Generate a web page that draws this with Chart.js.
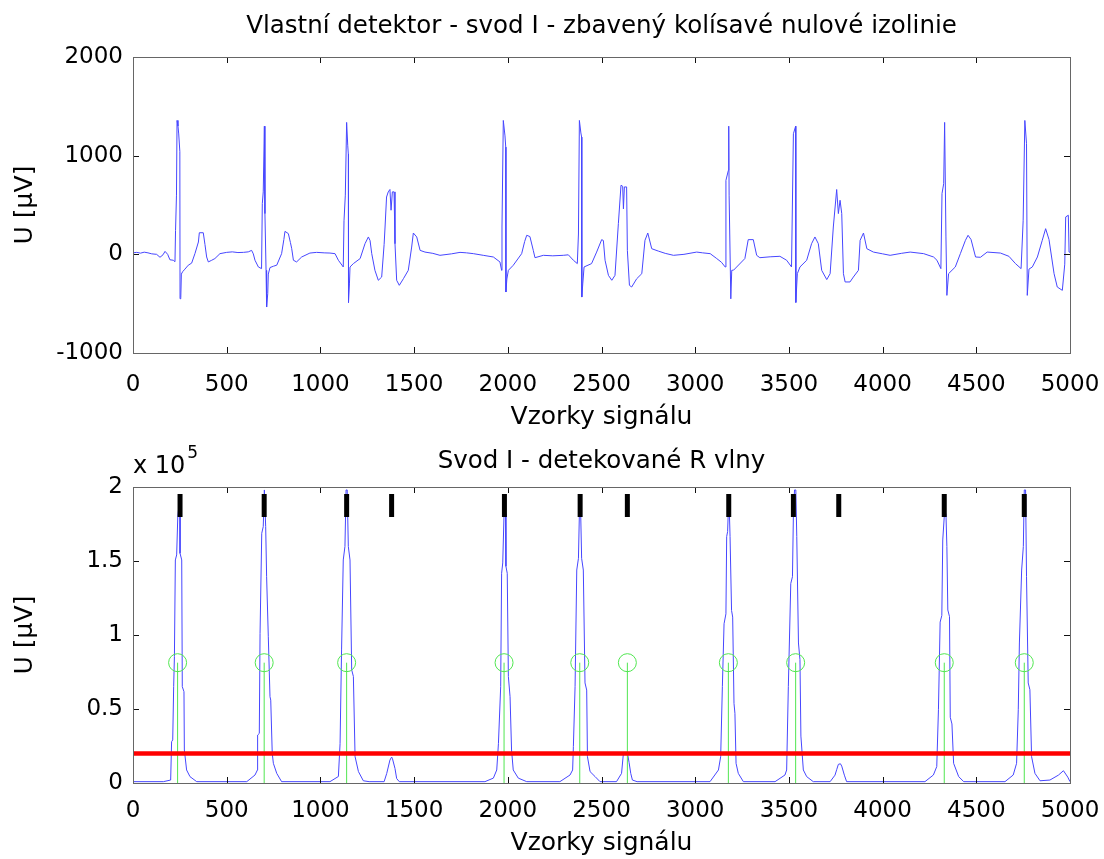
<!DOCTYPE html>
<html lang="cs">
<head>
  <meta charset="UTF-8" />
  <title>Vlastní detektor - svod I</title>
  <script src="https://cdn.jsdelivr.net/npm/chart.js"></script>
  <style>
    body { margin: 0; background: #fff; }
    .wrap { position: relative; width: 1104px; height: 859px; }
    #ecgChart { position: absolute; left: 0; top: 0; }
    #detChart { position: absolute; left: 0; top: 430px; }
  </style>
</head>
<body>
  <div class="wrap">
    <canvas id="ecgChart" width="1104" height="430"></canvas>
    <canvas id="detChart" width="1104" height="429"></canvas>
  </div>

  <script>
    // --- data ---
    const xTicks = [0, 500, 1000, 1500, 2000, 2500, 3000, 3500, 4000, 4500, 5000];
    const ecgTicks = [-1000, 0, 1000, 2000];
    const detTicks = [0, 50000, 100000, 150000, 200000];

    // svod I bez kolisave izolinie: [vzorek, uV]
    const ecgTrace = [
      [0,15],[20,20],[40,12],[60,22],[80,15],[100,5],[126,0],[144,-30],[160,-5],[171,30],[185,0],[197,-55],[215,-60],[224,-75],
      [227,240],[232,600],[235,1357],[240,1300],[244,1220],[250,1040],[251,-450],[255,-440],[258,-200],[265,-176],[277,-150],[295,-110],[313,-89],[331,10],[349,125],[354,219],[375,219],[384,100],[393,-27],[402,-77],[420,-60],[437,-43],[464,7],[500,20],[530,25],[560,18],[589,20],[615,25],[633,40],[642,5],[651,-60],[669,-128],[686,-145],
      [690,515],[695,633],[701,1299],[704,413],[710,-162],[713,-534],[719,-399],[722,-200],[731,-134],[750,-120],[767,-110],[793,7],[805,150],[811,233],[829,210],[840,120],[847,57],[856,-60],[873,-77],[900,-27],[944,13],[980,20],[1020,15],[1051,13],[1078,7],[1096,-60],[1122,-128],
      [1126,340],[1133,600],[1140,1337],[1146,1100],[1149,1016],[1150,-488],[1155,-300],[1158,-128],[1176,-94],[1212,-43],[1238,108],[1256,176],[1265,140],[1274,7],[1291,-162],[1309,-263],[1327,-230],[1340,100],[1345,277],[1353,581],[1362,633],[1371,657],[1377,447],[1384,633],[1393,633],[1398,108],[1407,-263],[1421,-314],[1443,-247],[1469,-162],[1487,74],[1496,216],[1514,176],[1532,40],[1558,23],[1600,10],[1638,-10],[1700,5],[1745,20],[1780,15],[1816,7],[1869,-10],[1923,-27],[1958,-77],[1967,-162],
      [1969,277],[1976,1357],[1985,1200],[1989,1087],[1990,-382],[1995,-250],[2003,-162],[2029,-111],[2074,7],[2090,130],[2101,193],[2118,180],[2136,40],[2145,-34],[2190,-10],[2240,-15],[2296,-10],[2323,-5],[2350,-60],[2371,-94],
      [2377,206],[2382,1357],[2390,1230],[2394,1188],[2395,-433],[2400,-300],[2407,-128],[2447,-94],[2474,23],[2501,149],[2510,140],[2519,-60],[2537,-213],[2555,-263],[2572,-213],[2590,311],[2604,700],[2613,690],[2617,461],[2622,683],[2634,683],[2638,40],[2649,-314],[2661,-331],[2688,-247],[2715,-196],[2732,142],[2747,216],[2768,57],[2803,33],[2840,10],[2884,-10],[2940,0],[3008,23],[3040,15],[3080,7],[3115,-43],[3140,-80],[3160,-128],
      [3164,750],[3177,851],[3179,1299],[3181,600],[3190,-451],[3195,-162],[3205,-160],[3265,-43],[3283,149],[3310,149],[3328,-10],[3345,-34],[3400,-25],[3452,-20],[3488,-60],[3514,-128],
      [3524,1222],[3536,1299],[3537,-488],[3545,-196],[3559,-128],[3595,-60],[3621,108],[3639,176],[3657,108],[3675,-162],[3702,-256],[3720,-196],[3737,277],[3755,657],[3764,413],[3773,548],[3782,413],[3791,-196],[3800,-280],[3826,-280],[3844,-230],[3871,-162],[3880,142],[3898,216],[3916,57],[3951,23],[4000,5],[4040,-10],[4100,10],[4147,23],[4219,7],[4272,-27],[4290,-60],[4311,-145],
      [4317,616],[4326,716],[4331,1337],[4338,176],[4343,-416],[4352,-196],[4388,-128],[4415,7],[4442,142],[4456,193],[4472,150],[4496,-27],[4522,-30],[4558,23],[4629,13],[4674,-20],[4709,-94],[4739,-145],
      [4750,340],[4759,1357],[4768,1121],[4772,-416],[4781,-150],[4799,-128],[4826,-27],[4852,142],[4870,260],[4888,150],[4915,-196],[4932,-331],[4959,-365],[4972,-100],[4977,379],[4991,396],[4995,23],[5000,20]
    ];

    // obalka po umocneni: [vzorek, uV]
    const envTrace = [
      [0,900],[162,900],[201,2000],[206,27900],[212,29100],[217,65100],[221,85400],[226,150700],[233,154100],[239,180000],[244,186000],[251,180000],[251,155200],[260,150700],[263,65100],[272,61700],[274,22300],[286,8800],[304,4300],[340,900],
      [607,900],[651,5400],[664,8800],[665,32400],[674,33500],[678,101100],[687,168700],[695,173200],[701,198000],[704,198000],[708,173200],[713,139400],[722,98800],[731,58300],[735,56000],[743,20000],[749,13300],[767,6500],[793,900],
      [1051,900],[1096,4400],[1105,26600],[1113,89900],[1122,150700],[1131,159800],[1137,198000],[1143,198000],[1149,159800],[1158,150700],[1167,76400],[1176,72000],[1185,17800],[1203,7700],[1229,1500],[1260,900],
      [1340,900],[1354,6500],[1371,15500],[1380,17500],[1384,16700],[1398,9800],[1407,3000],[1421,900],
      [1878,900],[1923,3300],[1941,8800],[1950,26600],[1962,65100],[1967,141700],[1973,148700],[1980,182000],[1988,182000],[1990,146400],[1997,141700],[2003,72000],[2012,58300],[2020,22300],[2029,8800],[2056,3300],[2101,900],
      [2278,900],[2332,5400],[2346,8800],[2350,24700],[2359,65100],[2368,143900],[2377,151800],[2382,182000],[2389,182000],[2394,151800],[2403,143900],[2412,67600],[2421,62800],[2425,17800],[2439,7700],[2466,4300],[2492,900],
      [2580,900],[2607,6500],[2616,18900],[2630,20000],[2638,20500],[2647,14000],[2656,6500],[2665,2000],[2690,900],
      [3079,900],[3124,8800],[3136,17800],[3145,65100],[3154,107600],[3164,114300],[3168,166500],[3173,169900],[3177,185000],[3182,185000],[3186,166500],[3194,116600],[3200,112100],[3207,53800],[3212,47100],[3218,13300],[3230,6500],[3257,900],
      [3426,900],[3479,5400],[3488,8800],[3497,65100],[3510,134800],[3519,139400],[3524,181500],[3530,198000],[3537,198000],[3542,166500],[3551,94600],[3559,83300],[3564,31700],[3577,8800],[3595,4300],[3630,900],
      [3720,900],[3746,5300],[3755,9000],[3764,12600],[3775,13000],[3782,11400],[3796,5300],[3808,900],
      [4226,900],[4271,5400],[4289,11100],[4298,49500],[4307,108700],[4316,113200],[4321,164200],[4330,182000],[4338,182000],[4343,159800],[4348,116900],[4357,112400],[4361,44400],[4370,39900],[4379,13300],[4406,4300],[4433,900],
      [4653,900],[4697,5400],[4715,13300],[4724,49500],[4730,94600],[4742,143900],[4751,159800],[4756,198000],[4763,198000],[4768,139400],[4777,67600],[4786,63000],[4795,17800],[4813,6500],[4840,1500],[4893,2000],[4938,5300],[4965,8300],[4988,4000],[5000,900]
    ];

    const detectedR = [238, 700, 1140, 1980, 2384, 2638, 3177, 3536, 4329, 4756];
    const detectedLevel = 81300;
    const candidates = [251, 700, 1140, 1380, 1982, 2386, 2638, 3179, 3524, 3766, 4329, 4756];
    const candidateLevel = 187500;
    const threshold = 20000;

    // --- styling ---
    const FONT = "'DejaVu Sans', 'Liberation Sans', Arial, sans-serif";
    Chart.defaults.font.family = FONT;
    Chart.defaults.color = '#000';

    const toXY = arr => arr.map(p => ({ x: p[0], y: p[1] }));

    // matlab-like box with inward ticks
    const boxPlugin = {
      id: 'matlabBox',
      afterDatasetsDraw(chart) {
        const { ctx, chartArea: a, scales } = chart;
        ctx.save();
        ctx.strokeStyle = '#111';
        ctx.lineWidth = 1;
        ctx.beginPath();
        scales.x.ticks.forEach(t => {
          const px = Math.round(scales.x.getPixelForValue(t.value)) + 0.5;
          ctx.moveTo(px, a.bottom); ctx.lineTo(px, a.bottom - 6);
          ctx.moveTo(px, a.top); ctx.lineTo(px, a.top + 6);
        });
        scales.y.ticks.forEach(t => {
          const py = Math.round(scales.y.getPixelForValue(t.value)) + 0.5;
          ctx.moveTo(a.left, py); ctx.lineTo(a.left + 6, py);
          ctx.moveTo(a.right, py); ctx.lineTo(a.right - 6, py);
        });
        ctx.stroke();
        ctx.strokeStyle = '#666';
        ctx.strokeRect(Math.round(a.left) + 0.5, Math.round(a.top) + 0.5, Math.round(a.width), Math.round(a.height));
        ctx.restore();
      }
    };

    // "x 10^5" exponent label
    const exponentPlugin = {
      id: 'exponent',
      afterDraw(chart) {
        const { ctx, chartArea: a } = chart;
        ctx.save();
        ctx.fillStyle = '#000';
        ctx.textBaseline = 'alphabetic';
        ctx.font = '24px ' + FONT;
        ctx.fillText('x 10', a.left, 43);
        const w = ctx.measureText('x 10').width;
        ctx.font = '17px ' + FONT;
        ctx.fillText('5', a.left + w + 2, 28);
        ctx.restore();
      }
    };

    function axes(yTicks, yFmt, xTickPad, xTitlePad, xHeight) {
      return {
        x: {
          type: 'linear', min: 0, max: 5000,
          afterBuildTicks: s => { s.ticks = xTicks.map(v => ({ value: v })); },
          ticks: { font: { size: 23 }, padding: xTickPad, maxRotation: 0, autoSkip: false, callback: v => String(v) },
          grid: { display: false, drawTicks: false },
          border: { display: false },
          title: { display: true, text: 'Vzorky signálu', font: { size: 25 }, padding: { top: 0, bottom: xTitlePad } },
          afterFit: s => { s.height = xHeight; s.paddingLeft = 0; s.paddingRight = 0; }
        },
        y: {
          type: 'linear', min: yTicks[0], max: yTicks[yTicks.length - 1],
          afterBuildTicks: s => { s.ticks = yTicks.map(v => ({ value: v })); },
          ticks: { font: { size: 23 }, padding: 10, callback: yFmt, autoSkip: false },
          grid: { display: false, drawTicks: false },
          border: { display: false },
          title: { display: true, text: 'U [μV]', font: { size: 25 }, padding: { top: 10, bottom: 0 } },
          afterFit: s => { s.width = 133; s.paddingTop = 0; s.paddingBottom = 0; }
        }
      };
    }

    const common = {
      responsive: false,
      animation: false,
      events: [],
      layout: { padding: { left: 0, right: 34, top: 0, bottom: 0 } }
    };

    new Chart(document.getElementById('ecgChart'), {
      type: 'line',
      data: {
        datasets: [{
          data: toXY(ecgTrace),
          borderColor: 'rgb(70,70,255)',
          borderWidth: 1,
          pointRadius: 0,
          tension: 0
        }]
      },
      options: {
        ...common,
        scales: axes(ecgTicks, v => String(v), 18, -2, 77),
        plugins: {
          legend: { display: false },
          tooltip: { enabled: false },
          title: {
            display: true, fullSize: false,
            text: 'Vlastní detektor - svod I - zbavený kolísavé nulové izolinie',
            font: { size: 24.5, weight: 'normal' }, color: '#000',
            padding: { top: 12.3, bottom: 15.3 }
          }
        }
      },
      plugins: [boxPlugin]
    });

    new Chart(document.getElementById('detChart'), {
      type: 'line',
      data: {
        datasets: [
          {
            data: candidates.map(x => ({ x, y: candidateLevel })),
            showLine: false,
            pointStyle: 'line', rotation: 90,
            pointRadius: 11.5, borderWidth: 5,
            borderColor: '#000', backgroundColor: '#000'
          },
          {
            data: [{ x: 0, y: threshold }, { x: 5000, y: threshold }],
            borderColor: 'rgb(255,0,0)', borderWidth: 4.5, pointRadius: 0
          },
          {
            data: detectedR.map(x => ({ x, y: detectedLevel })),
            showLine: false,
            pointStyle: 'circle', pointRadius: 9, borderWidth: 1,
            borderColor: 'rgb(80,230,80)', backgroundColor: 'rgba(0,0,0,0)'
          },
          {
            data: detectedR.flatMap(x => [{ x, y: 0 }, { x, y: detectedLevel }, { x, y: null }]),
            borderColor: 'rgb(80,230,80)', borderWidth: 1, pointRadius: 0, spanGaps: false
          },
          {
            data: toXY(envTrace),
            borderColor: 'rgb(70,70,255)', borderWidth: 1, pointRadius: 0, tension: 0
          }
        ]
      },
      options: {
        ...common,
        scales: axes(detTicks, v => String(v / 100000), 14, 1, 76),
        plugins: {
          legend: { display: false },
          tooltip: { enabled: false },
          title: {
            display: true, fullSize: false,
            text: 'Svod I - detekované R vlny',
            font: { size: 24.5, weight: 'normal' }, color: '#000',
            padding: { top: 17.3, bottom: 10.3 }
          }
        }
      },
      plugins: [boxPlugin, exponentPlugin]
    });
  </script>
</body>
</html>
